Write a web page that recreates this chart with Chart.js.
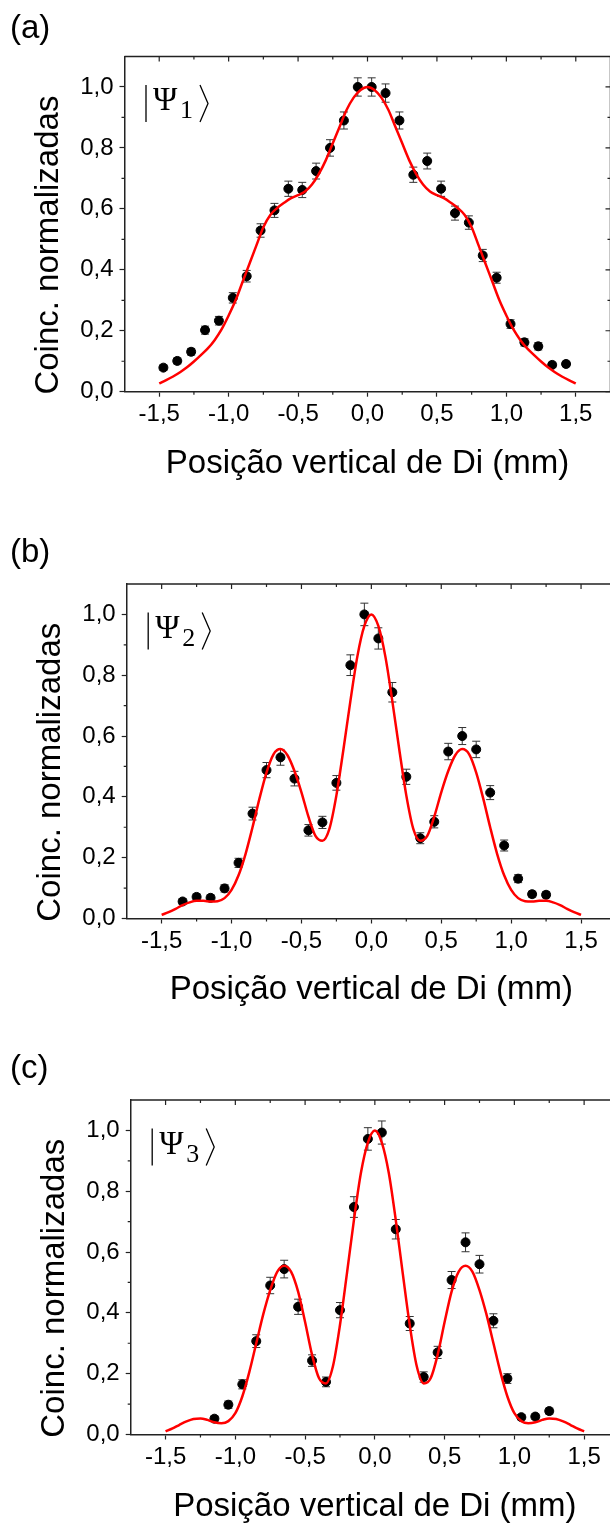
<!DOCTYPE html>
<html lang="pt">
<head>
  <meta charset="UTF-8" />
  <title>Coincidências normalizadas</title>
  <script src="https://cdn.jsdelivr.net/npm/chart.js"></script>
  <style>
    * {
      margin: 0;
      padding: 0;
      box-sizing: border-box;
    }

    html, body {
      width: 610px;
      height: 1526px;
      overflow: hidden;
      background: #fff;
    }

    body {
      position: relative;
    }

    .panel {
      position: absolute;
      left: 0;
    }
  </style>
</head>

<body>
  <div class="panel" style="top:0"><canvas id="chartA" width="640" height="515"></canvas></div>
  <div class="panel" style="top:515px"><canvas id="chartB" width="640" height="515"></canvas></div>
  <div class="panel" style="top:1030px"><canvas id="chartC" width="640" height="496"></canvas></div>

  <script>
    // axis ticks
    const xTicks = [-1.5, -1.0, -0.5, 0.0, 0.5, 1.0, 1.5];
    const xTickLabels = ['-1,5', '-1,0', '-0,5', '0,0', '0,5', '1,0', '1,5'];
    const xMinorTicks = [-1.25, -0.75, -0.25, 0.25, 0.75, 1.25];
    const yTicks = [0.0, 0.2, 0.4, 0.6, 0.8, 1.0];
    const yTickLabels = ['0,0', '0,2', '0,4', '0,6', '0,8', '1,0'];
    const yMinorTicks = [0.1, 0.3, 0.5, 0.7, 0.9];

    const fitX = [-1.5, -1.45, -1.4, -1.35, -1.3, -1.25, -1.2, -1.15, -1.1, -1.05,
      -1.0, -0.95, -0.9, -0.85, -0.8, -0.75, -0.7, -0.65, -0.6, -0.55,
      -0.5, -0.45, -0.4, -0.35, -0.3, -0.25, -0.2, -0.15, -0.1, -0.05,
      0.0, 0.05, 0.1, 0.15, 0.2, 0.25, 0.3, 0.35, 0.4, 0.45,
      0.5, 0.55, 0.6, 0.65, 0.7, 0.75, 0.8, 0.85, 0.9, 0.95,
      1.0, 1.05, 1.1, 1.15, 1.2, 1.25, 1.3, 1.35, 1.4, 1.45, 1.5];

    // (a) |Psi1>
    const posA = [-1.47, -1.37, -1.27, -1.17, -1.07, -0.97, -0.87, -0.77, -0.67, -0.57,
      -0.47, -0.37, -0.27, -0.17, -0.07, 0.03, 0.13, 0.23, 0.33, 0.43,
      0.53, 0.63, 0.73, 0.83, 0.93, 1.03, 1.13, 1.23, 1.33, 1.43];
    const coincA = [0.079, 0.101, 0.131, 0.202, 0.233, 0.308, 0.379, 0.529, 0.595, 0.666,
      0.662, 0.724, 0.800, 0.890, 1.000, 1.000, 0.980, 0.890, 0.712, 0.757,
      0.666, 0.586, 0.555, 0.447, 0.374, 0.222, 0.162, 0.149, 0.088, 0.091];
    const errA = [0.009, 0.010, 0.011, 0.013, 0.014, 0.017, 0.019, 0.022, 0.023, 0.025,
      0.025, 0.026, 0.027, 0.028, 0.030, 0.030, 0.030, 0.028, 0.025, 0.026,
      0.025, 0.023, 0.022, 0.020, 0.018, 0.014, 0.012, 0.012, 0.009, 0.009];
    const fitA = [0.027, 0.038, 0.05, 0.064, 0.08, 0.099, 0.12, 0.142, 0.17, 0.205,
      0.25, 0.30, 0.36, 0.42, 0.48, 0.54, 0.58, 0.603, 0.62, 0.635,
      0.645, 0.657, 0.68, 0.715, 0.76, 0.815, 0.87, 0.925, 0.965, 0.99,
      1.0, 0.99, 0.965, 0.925, 0.87, 0.815, 0.76, 0.715, 0.68, 0.657,
      0.645, 0.635, 0.62, 0.603, 0.58, 0.54, 0.48, 0.42, 0.36, 0.30,
      0.25, 0.205, 0.17, 0.142, 0.12, 0.099, 0.08, 0.064, 0.05, 0.038, 0.027];

    // (b) |Psi2>
    const posB = [-1.35, -1.25, -1.15, -1.05, -0.95, -0.85, -0.75, -0.65, -0.55, -0.45,
      -0.35, -0.25, -0.15, -0.05, 0.05, 0.15, 0.25, 0.35, 0.45, 0.55,
      0.65, 0.75, 0.85, 0.95, 1.05, 1.15, 1.25];
    const coincB = [0.056, 0.071, 0.068, 0.099, 0.183, 0.345, 0.488, 0.530, 0.460, 0.290,
      0.316, 0.446, 0.833, 1.000, 0.921, 0.744, 0.466, 0.264, 0.318, 0.549,
      0.600, 0.556, 0.414, 0.240, 0.131, 0.080, 0.078];
    const errB = [0.009, 0.010, 0.010, 0.012, 0.015, 0.021, 0.025, 0.026, 0.024, 0.019,
      0.020, 0.024, 0.034, 0.037, 0.035, 0.032, 0.025, 0.018, 0.020, 0.027,
      0.028, 0.027, 0.023, 0.018, 0.013, 0.010, 0.010];
    const fitB = [0.012, 0.021, 0.032, 0.044, 0.053, 0.058, 0.058, 0.056, 0.057, 0.067,
      0.094, 0.142, 0.212, 0.300, 0.395, 0.480, 0.540, 0.557, 0.537, 0.485,
      0.415, 0.335, 0.272, 0.256, 0.295, 0.405, 0.555, 0.715, 0.862, 0.962,
      1.0, 0.962, 0.862, 0.715, 0.555, 0.405, 0.295, 0.256, 0.272, 0.335,
      0.415, 0.485, 0.537, 0.557, 0.540, 0.480, 0.395, 0.300, 0.212, 0.142,
      0.094, 0.067, 0.057, 0.056, 0.058, 0.058, 0.053, 0.044, 0.032, 0.021, 0.012];

    // (c) |Psi3>
    const posC = [-1.15, -1.05, -0.95, -0.85, -0.75, -0.65, -0.55, -0.45, -0.35, -0.25,
      -0.15, -0.05, 0.05, 0.15, 0.25, 0.35, 0.45, 0.55, 0.65, 0.75,
      0.85, 0.95, 1.05, 1.15, 1.25];
    const coincC = [0.052, 0.098, 0.165, 0.307, 0.490, 0.544, 0.420, 0.243, 0.173, 0.409,
      0.748, 0.972, 0.993, 0.675, 0.365, 0.189, 0.270, 0.508, 0.632, 0.560,
      0.374, 0.184, 0.057, 0.059, 0.077];
    const errC = [0.009, 0.012, 0.015, 0.021, 0.027, 0.029, 0.025, 0.019, 0.016, 0.025,
      0.034, 0.037, 0.038, 0.032, 0.023, 0.017, 0.020, 0.028, 0.031, 0.029,
      0.023, 0.016, 0.009, 0.009, 0.010];
    const fitC = [0.010, 0.020, 0.032, 0.043, 0.051, 0.053, 0.048, 0.040, 0.037, 0.044,
      0.070, 0.125, 0.205, 0.300, 0.395, 0.475, 0.535, 0.555, 0.535, 0.470,
      0.370, 0.262, 0.185, 0.168, 0.225, 0.36, 0.53, 0.705, 0.86, 0.96,
      1.0, 0.96, 0.86, 0.705, 0.53, 0.36, 0.225, 0.168, 0.185, 0.262,
      0.370, 0.470, 0.535, 0.555, 0.535, 0.475, 0.395, 0.300, 0.205, 0.125,
      0.070, 0.044, 0.037, 0.040, 0.048, 0.053, 0.051, 0.043, 0.032, 0.020, 0.010];

    const SANS = '"Liberation Sans", Arial, sans-serif';
    const SERIF = '"Liberation Serif", "Times New Roman", serif';
    const AXIS = '#222';

    // draws the top/right frame and the minor + mirrored ticks
    const framePlugin = {
      id: 'frame',
      afterDraw(chart) {
        const { ctx, chartArea: a, scales: { x, y } } = chart;
        ctx.save();
        ctx.strokeStyle = AXIS;
        ctx.lineWidth = 1.5;
        ctx.beginPath();
        ctx.moveTo(a.left, a.top);
        ctx.lineTo(a.right, a.top);
        ctx.lineTo(a.right, a.bottom);
        ctx.stroke();

        ctx.lineWidth = 1.2;
        ctx.beginPath();
        xTicks.forEach(v => {
          const px = x.getPixelForValue(v);
          ctx.moveTo(px, a.top); ctx.lineTo(px, a.top + 5);
        });
        xMinorTicks.forEach(v => {
          const px = x.getPixelForValue(v);
          ctx.moveTo(px, a.top); ctx.lineTo(px, a.top + 3);
          ctx.moveTo(px, a.bottom); ctx.lineTo(px, a.bottom + 3);
        });
        yTicks.forEach(v => {
          const py = y.getPixelForValue(v);
          ctx.moveTo(a.right, py); ctx.lineTo(a.right - 5, py);
        });
        yMinorTicks.forEach(v => {
          const py = y.getPixelForValue(v);
          ctx.moveTo(a.left, py); ctx.lineTo(a.left - 3, py);
          ctx.moveTo(a.right, py); ctx.lineTo(a.right - 3, py);
        });
        ctx.stroke();
        ctx.restore();
      }
    };

    // vertical error bars with caps, from the dataset's errors array
    const errorBarPlugin = {
      id: 'errorBars',
      beforeDatasetsDraw(chart) {
        const { ctx, scales: { x, y } } = chart;
        ctx.save();
        ctx.strokeStyle = '#333';
        ctx.lineWidth = 1;
        chart.data.datasets.forEach(ds => {
          if (!ds.errors) return;
          ds.data.forEach((pt, i) => {
            const e = ds.errors[i];
            const px = x.getPixelForValue(pt.x);
            const lo = y.getPixelForValue(pt.y - e);
            const hi = y.getPixelForValue(pt.y + e);
            ctx.beginPath();
            ctx.moveTo(px, lo); ctx.lineTo(px, hi);
            ctx.moveTo(px - 4, lo); ctx.lineTo(px + 4, lo);
            ctx.moveTo(px - 4, hi); ctx.lineTo(px + 4, hi);
            ctx.stroke();
          });
        });
        ctx.restore();
      }
    };

    function makeChart(id, p) {
      const canvas = document.getElementById(id);
      const W = canvas.width, H = canvas.height;

      // panel letter, ket label and the rotated y title
      const textPlugin = {
        id: 'panelText',
        afterDraw(chart) {
          const { ctx, chartArea: a } = chart;
          ctx.save();
          ctx.fillStyle = '#000';
          ctx.textBaseline = 'alphabetic';
          ctx.font = '33px ' + SANS;
          ctx.fillText(p.letter, 10, p.letterY);

          const kx = a.left + 21.5, ky = a.top + 28.5;
          ctx.font = '33px ' + SERIF;
          ctx.fillText('Ψ', kx + 7, ky + 25);
          ctx.font = '26px ' + SERIF;
          ctx.fillText(p.index, kx + 34, ky + 33);
          ctx.strokeStyle = '#000';
          ctx.lineWidth = 1.3;
          ctx.beginPath();
          ctx.moveTo(kx, ky); ctx.lineTo(kx, ky + 37);
          ctx.moveTo(kx + 54, ky); ctx.lineTo(kx + 62, ky + 18.5); ctx.lineTo(kx + 54, ky + 37);
          ctx.stroke();

          ctx.translate(a.left - 76, (a.top + a.bottom) / 2 + 21);
          ctx.rotate(-Math.PI / 2);
          ctx.textAlign = 'center';
          ctx.textBaseline = 'middle';
          ctx.font = '33px ' + SANS;
          ctx.fillText('Coinc. normalizadas', 0, 0);
          ctx.restore();
        }
      };

      return new Chart(canvas, {
        type: 'scatter',
        data: {
          datasets: [
            {
              type: 'line',
              data: fitX.map((v, i) => ({ x: v, y: p.fit[i] })),
              borderColor: '#ff0000',
              borderWidth: 2.5,
              pointRadius: 0,
              fill: false,
              cubicInterpolationMode: 'monotone',
              order: 0
            },
            {
              data: p.pos.map((v, i) => ({ x: v, y: p.coinc[i] })),
              errors: p.err,
              backgroundColor: '#000',
              borderColor: '#000',
              pointRadius: 4.5,
              pointHoverRadius: 4.5,
              order: 1
            }
          ]
        },
        options: {
          responsive: false,
          animation: false,
          events: [],
          layout: { padding: { left: 0, top: p.top, right: W - p.right, bottom: 0 } },
          plugins: { legend: { display: false }, tooltip: { enabled: false } },
          scales: {
            x: {
              type: 'linear',
              min: -1.75,
              max: 1.75,
              afterBuildTicks: s => { s.ticks = xTicks.map(v => ({ value: v })); },
              afterFit: s => { s.height = H - p.bottom; },
              ticks: {
                autoSkip: false,
                maxRotation: 0,
                padding: 3.5,
                color: '#000',
                font: { family: SANS, size: 24 },
                callback: v => xTickLabels[xTicks.indexOf(v)]
              },
              grid: { drawOnChartArea: false, tickLength: 5, tickColor: AXIS, tickWidth: 1.2 },
              border: { color: AXIS, width: 1.5 },
              title: {
                display: true,
                text: 'Posição vertical de Di (mm)',
                color: '#000',
                font: { family: SANS, size: 33, lineHeight: 1.2 },
                padding: { top: 0, bottom: H - p.xTitleY - 19.8 }
              }
            },
            y: {
              type: 'linear',
              min: 0,
              max: 1.1,
              afterBuildTicks: s => { s.ticks = yTicks.map(v => ({ value: v })); },
              afterFit: s => { s.width = p.left; },
              ticks: {
                padding: 6,
                color: '#000',
                font: { family: SANS, size: 24 },
                callback: v => yTickLabels[yTicks.indexOf(v)]
              },
              grid: { drawOnChartArea: false, tickLength: 5, tickColor: AXIS, tickWidth: 1.2 },
              border: { color: AXIS, width: 1.5 }
            }
          }
        },
        plugins: [errorBarPlugin, framePlugin, textPlugin]
      });
    }

    makeChart('chartA', {
      pos: posA, coinc: coincA, err: errA, fit: fitA,
      letter: '(a)', letterY: 38, index: '1',
      left: 124.5, right: 610.5, top: 56.5, bottom: 391.7, xTitleY: 463.6
    });
    makeChart('chartB', {
      pos: posB, coinc: coincB, err: errB, fit: fitB,
      letter: '(b)', letterY: 47, index: '2',
      left: 126.7, right: 616, top: 69, bottom: 403.5, xTitleY: 475
    });
    makeChart('chartC', {
      pos: posC, coinc: coincC, err: errC, fit: fitC,
      letter: '(c)', letterY: 48, index: '3',
      left: 130.7, right: 619, top: 70, bottom: 404.5, xTitleY: 476.5
    });
  </script>
</body>
</html>
